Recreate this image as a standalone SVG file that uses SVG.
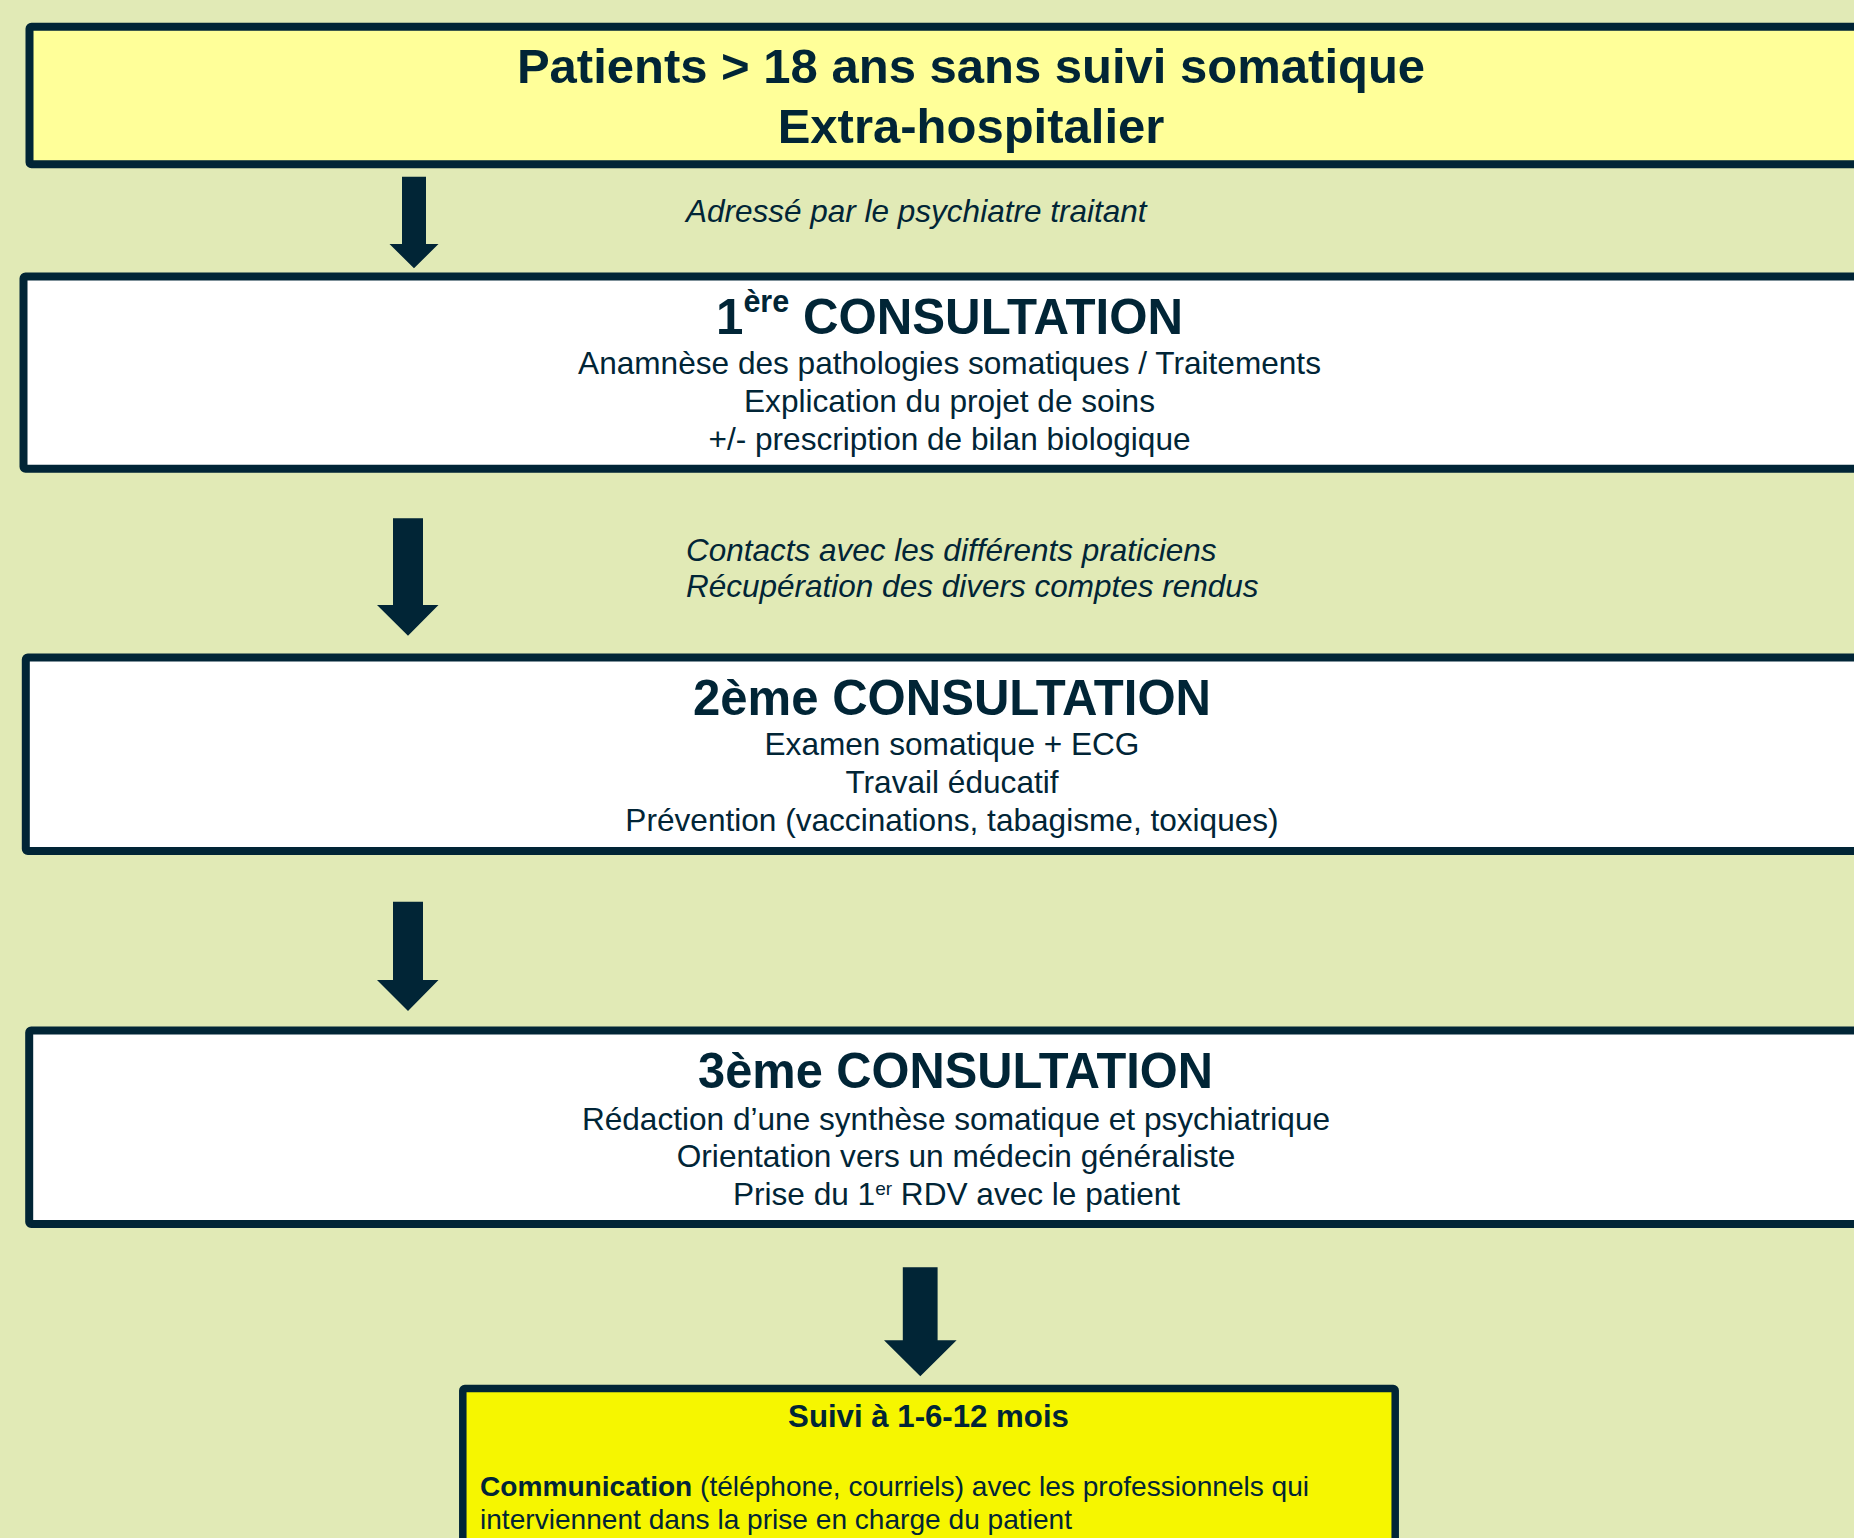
<svg xmlns="http://www.w3.org/2000/svg" width="1854" height="1538" viewBox="0 0 1854 1538">
<defs>
<style>
.bg{fill:#E1EAB6}
.box{stroke:#012536;stroke-width:8}
.yel{fill:#FFFF99}
.wht{fill:#FFFFFF}
.ybr{fill:#F6F600}
text{font-family:"Liberation Sans",Arial,sans-serif;fill:#012536}
.t1{font-size:49px;font-weight:bold;text-anchor:middle}
.th{font-size:50px;font-weight:bold}
.tb{font-size:31.6px;text-anchor:middle}
.ti{font-size:31.5px;font-style:italic}
.sb{font-size:31.2px;font-weight:bold;text-anchor:middle}
.sm{font-size:28.1px}
.arr{fill:#012536}
</style>
</defs>
<rect class="bg" x="0" y="0" width="1854" height="1538"/>

<g id="connectors">
<polygon class="arr" points="402,176.7 426,176.7 426,244 438.5,244 414,268.3 389.5,244 402,244"/>
<polygon class="arr" points="393,518.3 423,518.3 423,605 438.5,605 408,635.7 377,605 393,605"/>
<polygon class="arr" points="393,901.7 423,901.7 423,980 438.5,980 408,1011 377,980 393,980"/>
<polygon class="arr" points="902.8,1267.3 937.6,1267.3 937.6,1340.3 956.6,1340.3 920.3,1376.3 884,1340.3 902.8,1340.3"/>
</g>

<g id="node-patients">
<rect class="box yel" x="29.5" y="26.7" width="1900" height="137.6" rx="2"/>
<text class="t1" x="971" y="83.3">Patients &gt; 18 ans sans suivi somatique</text>
<text class="t1" x="971" y="142.7">Extra-hospitalier</text>
</g>

<g id="label-adresse">
<text class="ti" x="686" y="221.7">Adressé par le psychiatre traitant</text>
</g>

<g id="node-consult1">
<rect class="box wht" x="23.5" y="276.4" width="1900" height="192.4" rx="2"/>
<text class="th" x="716" y="334" textLength="467" lengthAdjust="spacingAndGlyphs">1<tspan font-size="31px" dy="-22">ère</tspan><tspan dy="22"> CONSULTATION</tspan></text>
<text class="tb" x="949.5" y="374">Anamnèse des pathologies somatiques / Traitements</text>
<text class="tb" x="949.5" y="412">Explication du projet de soins</text>
<text class="tb" x="949.5" y="450">+/- prescription de bilan biologique</text>
</g>

<g id="label-contacts">
<text class="ti" x="686" y="561">Contacts avec les différents praticiens</text>
<text class="ti" x="686" y="597.3">Récupération des divers comptes rendus</text>
</g>

<g id="node-consult2">
<rect class="box wht" x="25.8" y="657.5" width="1900" height="193.4" rx="2"/>
<text class="th" x="693" y="715" textLength="518" lengthAdjust="spacingAndGlyphs">2ème CONSULTATION</text>
<text class="tb" x="952" y="755">Examen somatique + ECG</text>
<text class="tb" x="952" y="793">Travail éducatif</text>
<text class="tb" x="952" y="831">Prévention (vaccinations, tabagisme, toxiques)</text>
</g>

<g id="node-consult3">
<rect class="box wht" x="29.2" y="1030.5" width="1900" height="193.5" rx="2"/>
<text class="th" x="698" y="1088" textLength="515" lengthAdjust="spacingAndGlyphs">3ème CONSULTATION</text>
<text class="tb" x="956" y="1129.5">Rédaction d’une synthèse somatique et psychiatrique</text>
<text class="tb" x="956" y="1167">Orientation vers un médecin généraliste</text>
<text class="tb" x="956.5" y="1204.7">Prise du 1<tspan font-size="19px" dy="-10">er</tspan><tspan dy="10"> RDV avec le patient</tspan></text>
</g>

<g id="node-suivi">
<rect class="box ybr" x="462.8" y="1388.5" width="932.4" height="200" rx="2" style="stroke-width:7.5"/>
<text class="sb" x="928.5" y="1427.3">Suivi à 1-6-12 mois</text>
<text class="sm" x="480" y="1496.3"><tspan font-weight="bold">Communication</tspan> (téléphone, courriels) avec les professionnels qui</text>
<text class="sm" x="480" y="1528.7">interviennent dans la prise en charge du patient</text>
</g>
</svg>
